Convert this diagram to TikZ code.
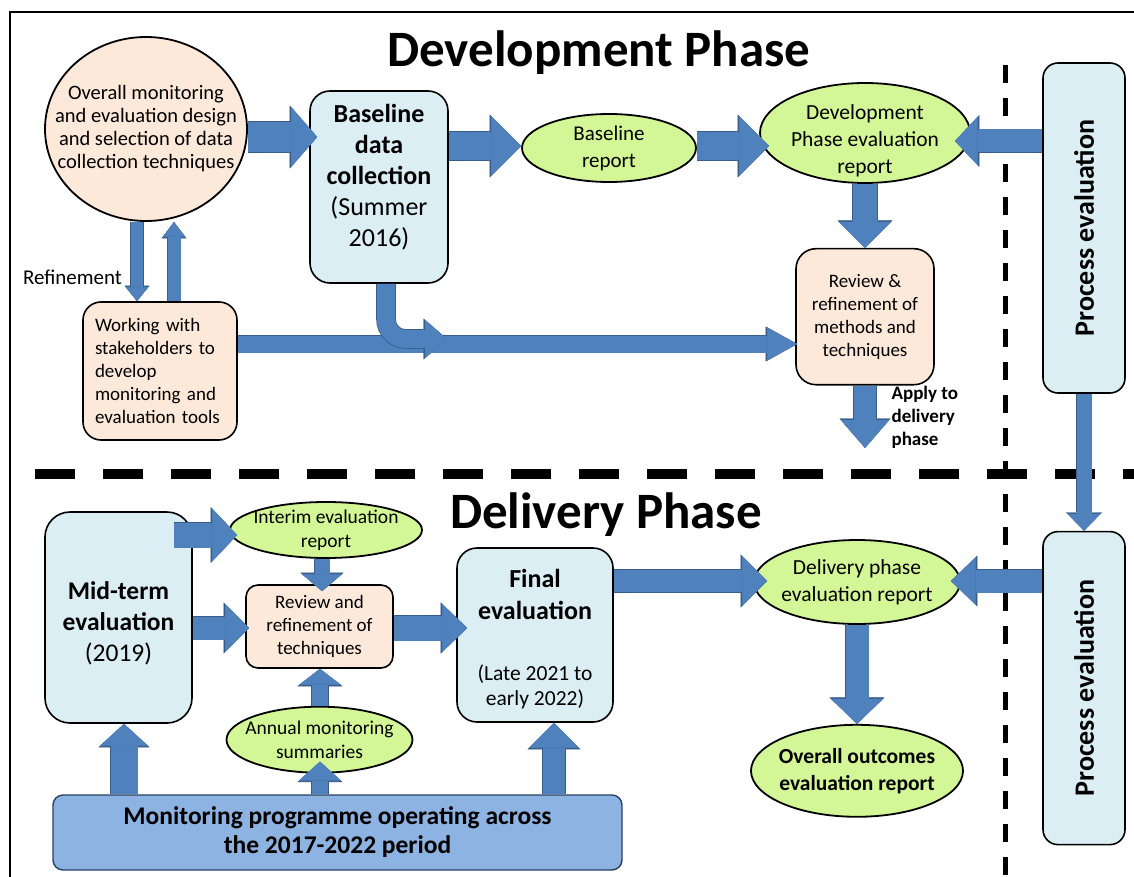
\documentclass[tikz,border=0pt]{standalone}
\usepackage{fontspec}
\setmainfont{Carlito}
\usepackage{graphicx}
\usetikzlibrary{shapes.geometric, arrows.meta, positioning, calc}
\definecolor{peach}{RGB}{253,233,217}
\definecolor{paleblue}{RGB}{219,238,244}
\definecolor{ellgreen}{RGB}{211,246,150}
\definecolor{arrowblue}{RGB}{79,129,189}
\definecolor{arrowedge}{RGB}{56,93,138}
\definecolor{progblue}{RGB}{141,179,226}

% block arrow: shaft width, head width, head length (all in pt)
\tikzset{
  blk/.code n args={3}{%
    \pgfmathsetmacro\blkouter{#1+1.6}%
    \pgfmathsetmacro\blkheadw{#2+3}%
    \pgfmathsetmacro\blkheadl{#3+1.5}%
    \edef\blkdo{\noexpand\tikzset{draw=arrowblue, line width=#1pt,
      -{Triangle[length=#3pt, width=#2pt, line width=0.4pt]},
      preaction={draw=arrowedge, line width=\blkouter pt,
        -{Triangle[length=\blkheadl pt, width=\blkheadw pt, line width=0.4pt]}}}}%
    \blkdo}
}

\begin{document}
\begin{tikzpicture}[
  x=1pt, y=-1pt,
  rbox/.style={rectangle, rounded corners=20pt, draw=black, line width=1.6pt,
               align=center, inner sep=3pt},
  ell/.style={ellipse, draw=black, line width=1.8pt, fill=ellgreen,
              align=center, inner sep=-25pt},
  dashline/.style={line width=10pt, dash pattern=on 40pt off 28pt},
  vdashline/.style={line width=5pt, dash pattern=on 18pt off 15pt}
]
  \useasboundingbox (0,0) rectangle (1134,877);

  % frame and phase dividers
  \draw[line width=2.5pt] (10,885) |- (1145,12);
  \draw[dashline]  (35,474) -- (1150,474);
  \draw[vdashline] (1005.5,65) -- (1005.5,880);

  % Titles
  \node[font=\fontsize{51}{60}\selectfont\bfseries, anchor=base] (devtitle) at (599,67) {Development Phase};
  \node[font=\fontsize{51}{60}\selectfont\bfseries, anchor=base] (deltitle) at (606,528) {Delivery Phase};

  % Development phase
  \node[ell, fill=peach, minimum width=202pt, minimum height=184pt,
        font=\fontsize{20.5}{23}\selectfont] (circ) at (146,129)
    {Overall monitoring\\and evaluation design\\and selection of data\\collection techniques};
  \node[rbox, fill=paleblue, minimum width=138pt, minimum height=192pt,
        font=\fontsize{26}{31}\selectfont] (baseline) at (379,187)
    {\textbf{Baseline}\\\textbf{data}\\\textbf{collection}\\(Summer\\2016)\rule[-23pt]{0pt}{23pt}};
  \node[ell, minimum width=174pt, minimum height=68pt,
        font=\fontsize{21}{27}\selectfont] (breport) at (609,148) {Baseline\\report};
  \node[ell, minimum width=210pt, minimum height=100pt,
        font=\fontsize{21.5}{27}\selectfont] (deveval) at (865,133)
    {\rule{0pt}{30pt}Development\\Phase evaluation\\report};
  \node[rbox, fill=peach, minimum width=138pt, minimum height=136pt,
        font=\fontsize{19}{23}\selectfont, below=64pt of deveval] (revdev)
    {Review \&\\refinement of\\methods and\\techniques};
  \node[rbox, fill=peach, rounded corners=18pt, minimum width=154pt, minimum height=138pt,
        text width=130pt, align=left, font=\fontsize{19}{23}\selectfont] (working) at (160,371)
    {Working with\\stakeholders to\\develop\\monitoring and\\evaluation tools};
  \node[font=\fontsize{21}{25}\selectfont, anchor=base] (refinelbl) at (72.5,284) {Refinement};
  \node[font=\fontsize{19}{23}\selectfont\bfseries, align=left, anchor=west] (applylbl) at (888,417)
    {Apply to\\delivery\\phase};
  \coordinate (applyend) at (864,448);
  \coordinate (mergept) at (447,339);

  % Process evaluation column
  \node[rbox, fill=paleblue, rounded corners=15pt, minimum width=82pt, minimum height=330pt,
        font=\fontsize{28}{34}\selectfont] (proctop) at (1084,228)
    {\rotatebox{90}{\textbf{Process evaluation}}};
  \node[rbox, fill=paleblue, rounded corners=15pt, minimum width=82pt, minimum height=313pt,
        font=\fontsize{28}{34}\selectfont, below=137pt of proctop] (procbot)
    {\rotatebox{90}{\textbf{Process evaluation}}};

  % Delivery phase
  \node[rbox, fill=paleblue, rounded corners=25pt, minimum width=147pt, minimum height=211pt,
        font=\fontsize{25.5}{31}\selectfont] (midterm) at (118.5,617.5)
    {\rule{0pt}{29pt}\textbf{Mid-term}\\\textbf{evaluation}\\(2019)};
  \node[ell, minimum width=192pt, minimum height=56pt,
        font=\fontsize{19.5}{24}\selectfont] (interim) at (326,530)
    {Interim evaluation\\report};
  \node[rbox, fill=peach, rounded corners=12pt, minimum width=147pt, minimum height=83pt,
        font=\fontsize{19}{23}\selectfont] (revdel) at (319.5,626.5)
    {Review and\\refinement of\\techniques};
  \node[ell, minimum width=186pt, minimum height=66pt,
        font=\fontsize{19.5}{24}\selectfont, below=37pt of revdel] (annual)
    {Annual monitoring\\summaries};
  \node[rbox, fill=paleblue, minimum width=156pt, minimum height=174pt,
        font=\fontsize{26}{32}\selectfont] (final) at (535,635)
    {\rule{0pt}{31pt}\textbf{Final}\\\textbf{evaluation}\\[29pt]{\fontsize{21.5}{25}\selectfont
      \begin{tabular}[t]{@{}c@{}}(Late 2021 to\\early 2022)\end{tabular}}};
  \node[ell, minimum width=206pt, minimum height=84pt,
        font=\fontsize{21.5}{27}\selectfont] (delivery) at (857,582)
    {Delivery phase\\evaluation report};
  \node[ell, minimum width=212pt, minimum height=92pt,
        font=\fontsize{21.5}{27}\selectfont\bfseries, below=99pt of delivery] (overall)
    {Overall outcomes\\evaluation report};
  \node[rectangle, rounded corners=10pt, draw=arrowedge!70!black, line width=1.4pt, fill=progblue,
        minimum width=569pt, minimum height=75pt, align=center,
        font=\fontsize{25.5}{29}\selectfont\bfseries] (monitor) at (337.5,832.5)
    {Monitoring programme operating across\\the 2017-2022 period};

  % Arrows, development phase
  \draw[blk={30}{60}{26}] (circ.east |- 0,137) -- ($(baseline.west |- 0,137)+(8,0)$);
  \draw[blk={28}{60}{30}] (baseline.east |- 0,146) -- (breport.west |- 0,146);
  \draw[blk={28}{60}{30}] (breport.east |- 0,146) -- ($(deveval.west |- 0,146)+(10,0)$);
  \draw[blk={23}{49}{23}] (proctop.west |- 0,141) -- ($(deveval.east |- 0,141)+(-16,0)$);
  \draw[blk={24}{52}{26}] (deveval.south) -- (deveval.south |- revdev.north);
  \draw[blk={22}{48}{28}] (revdev.south) -- (revdev.south |- applyend);
  \draw[blk={17}{32}{30}] (working.east |- 0,344) -- ($(revdev.west |- 0,344)+(2,0)$);
  \draw[blk={18}{38}{22}, rounded corners=20pt] ($(baseline.south)+(7,0)$) |- (mergept);
  \draw[blk={12}{22}{14}] (circ.south -| 137,0) -- (working.north -| 137,0);
  \draw[blk={13}{22}{15}] (working.north -| 174,0) -- (circ.south -| 174,0);
  \draw[blk={15}{33}{17}] (proctop.south) -- (procbot.north);

  % Arrows, delivery phase
  \draw[blk={25}{53}{25}] ($(midterm.east |- 0,535)+(-19,0)$) -- ($(interim.west |- 0,535)+(8,0)$);
  \draw[blk={15}{40}{17}] (interim.south -| 322,0) -- ($(revdel.north -| 322,0)+(0,7)$);
  \draw[blk={23}{48}{24}] (midterm.east |- 0,628) -- ($(revdel.west |- 0,628)+(4,0)$);
  \draw[blk={25}{48}{25}] (revdel.east |- 0,628) -- ($(final.west |- 0,628)+(11,0)$);
  \draw[blk={16}{42}{16}] (annual.north -| 320,0) -- (revdel.south -| 320,0);
  \draw[blk={16}{42}{19}] (monitor.north -| 320,0) -- ($(annual.south -| 320,0)+(0,-12)$);
  \draw[blk={27}{48}{22}] (monitor.north -| 124,0) -- (midterm.south -| 124,0);
  \draw[blk={22}{50}{25}] (monitor.north -| 554,0) -- (final.south -| 554,0);
  \draw[blk={22}{50}{25}] (final.east |- 0,581) -- ($(delivery.west |- 0,581)+(14,0)$);
  \draw[blk={23}{48}{25}] (procbot.west |- 0,581) -- ($(delivery.east |- 0,581)+(-10,0)$);
  \draw[blk={23}{52}{25}] (delivery.south) -- (overall.north);
\end{tikzpicture}
\end{document}
